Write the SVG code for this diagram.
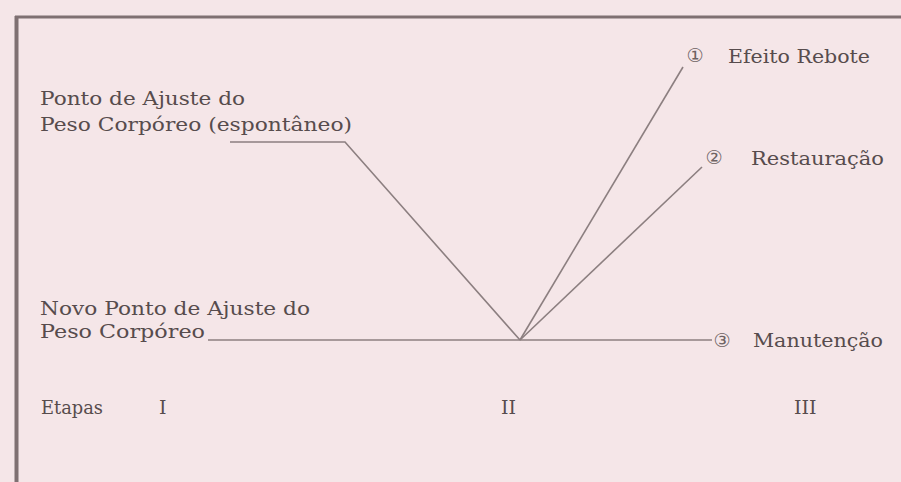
<svg xmlns="http://www.w3.org/2000/svg" width="901" height="482" viewBox="0 0 901 482">
<style>
.t{font-family:"DejaVu Serif","Liberation Serif",serif;font-size:19px;fill:#574c4d}
.n{font-family:"DejaVu Sans","Noto Sans CJK JP",sans-serif;font-size:19px;fill:#6e6364;text-anchor:middle}
.ln{stroke:#8c7f80;stroke-width:1.6;fill:none}
.bd{stroke:#7f7072;fill:none}
</style>
<rect width="901" height="482" fill="#f5e6e8"/>
<g id="frame">
<line class="bd" x1="15" y1="17" x2="901" y2="17" stroke-width="3"/>
<line class="bd" x1="16.5" y1="16" x2="16.5" y2="482" stroke-width="4"/>
</g>
<g id="connectors">
<polyline class="ln" points="230,142 345,142 520,340"/>
<line class="ln" x1="208" y1="340" x2="712" y2="340"/>
<line class="ln" x1="520" y1="340" x2="683" y2="67"/>
<line class="ln" x1="520" y1="340" x2="702" y2="167"/>
</g>
<g id="spontaneous">
<text class="t" x="40" y="105" textLength="205" lengthAdjust="spacingAndGlyphs">Ponto de Ajuste do</text>
<text class="t" x="40" y="131" textLength="312" lengthAdjust="spacingAndGlyphs">Peso Corpóreo (espontâneo)</text>
</g>
<g id="new-setpoint">
<text class="t" x="40" y="315" textLength="270" lengthAdjust="spacingAndGlyphs">Novo Ponto de Ajuste do</text>
<text class="t" x="40" y="338" textLength="165" lengthAdjust="spacingAndGlyphs">Peso Corpóreo</text>
</g>
<g id="rebote">
<text class="n" x="695" y="62">①</text>
<text class="t" x="728" y="63" textLength="142" lengthAdjust="spacingAndGlyphs">Efeito Rebote</text>
</g>
<g id="restauracao">
<text class="n" x="714" y="164">②</text>
<text class="t" x="751" y="165" textLength="133" lengthAdjust="spacingAndGlyphs">Restauração</text>
</g>
<g id="manutencao">
<text class="n" x="722" y="347">③</text>
<text class="t" x="753" y="347" textLength="130" lengthAdjust="spacingAndGlyphs">Manutenção</text>
</g>
<g id="etapas">
<text class="t" x="41" y="414" textLength="62" lengthAdjust="spacingAndGlyphs">Etapas</text>
<text class="t" x="159" y="414">I</text>
<text class="t" x="501" y="414">II</text>
<text class="t" x="794" y="414">III</text>
</g>
</svg>
